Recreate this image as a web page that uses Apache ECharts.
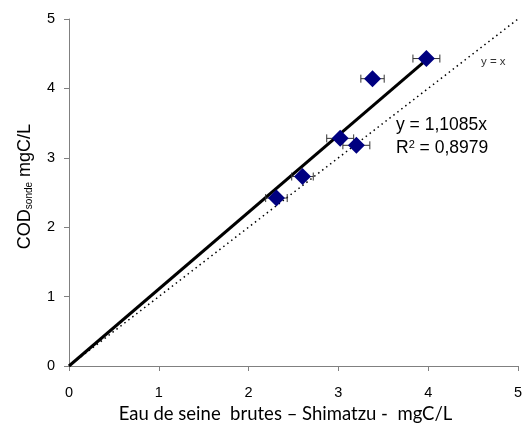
<!DOCTYPE html>
<html><head><meta charset="utf-8">
<script src="https://cdn.jsdelivr.net/npm/echarts@6/dist/echarts.min.js"></script>
<style>html,body{margin:0;padding:0;background:#fff}#c{width:523px;height:423px}</style>
</head><body><div id="c"></div>
<script>
const xValues = [2.31, 2.60, 3.02, 3.20, 3.38, 3.98];
const yValues = [2.42, 2.73, 3.28, 3.18, 4.14, 4.43];
const xErr = [0.12, 0.12, 0.15, 0.15, 0.13, 0.15];
const slope = 1.1085;
const trendX = [0, 3.98];
const identityX = [0, 5];
const tickValues = [0, 1, 2, 3, 4, 5];
const eqText = 'y = 1,1085x';
const r2Text = '0,8979';
const xName = 'Eau de seine  brutes – Shimatzu -  mgC/L';

const chart = echarts.init(document.getElementById('c'), null, {renderer: 'canvas'});
const pts = xValues.map((x, i) => [x, yValues[i]]);
const errData = xValues.map((x, i) => [x - xErr[i], x + xErr[i], yValues[i]]);
const font = 'Liberation Sans, Arial, sans-serif';
const nameFamily = 'Lato, Open Sans, sans-serif';
chart.setOption({
  animation: false,
  grid: {left: 69, right: 5, top: 19, bottom: 57, containLabel: false, outerBoundsMode: 'none'},
  xAxis: {
    type: 'value', min: 0, max: 5, interval: 1,
    axisLine: {show: true, lineStyle: {color: '#808080', width: 1}},
    axisTick: {show: true, inside: false, length: 5, lineStyle: {color: '#808080'}},
    splitLine: {show: false},
    axisLabel: {color: '#000', fontSize: 14.5, fontFamily: font, margin: 19},
    name: xName,
    nameLocation: 'middle', nameGap: 36,
    nameTextStyle: {color: '#000', fontSize: 18.5, fontFamily: nameFamily, padding: [0, 16, 0, 0]}
  },
  yAxis: {
    type: 'value', min: 0, max: 5, interval: 1,
    axisLine: {show: true, lineStyle: {color: '#808080', width: 1}},
    axisTick: {show: true, inside: false, length: 5, lineStyle: {color: '#808080'}},
    splitLine: {show: false},
    axisLabel: {color: '#000', fontSize: 14.5, fontFamily: font, margin: 14},
    name: '{a|COD}{b|sonde}{a| mgC/L}',
    nameLocation: 'middle', nameGap: 35,
    nameTextStyle: {
      padding: [0, 0, 0, 12],
      rich: {
        a: {fontSize: 18, fontFamily: font, color: '#000', lineHeight: 20, verticalAlign: 'bottom'},
        b: {fontSize: 10, fontFamily: font, color: '#000', lineHeight: 12, verticalAlign: 'bottom'}
      }
    }
  },
  series: [
    {
      type: 'line', data: identityX.map(x => [x, x]), symbol: 'none', silent: true,
      lineStyle: {color: '#000', width: 1.5, type: [1.5, 3.5]}, z: 1
    },
    {
      type: 'line', data: trendX.map(x => [x, slope * x]), symbol: 'none', silent: true,
      lineStyle: {color: '#000', width: 3}, z: 2
    },
    {
      type: 'custom', z: 3,
      renderItem: function (params, api) {
        const a = api.coord([api.value(0), api.value(2)]);
        const b = api.coord([api.value(1), api.value(2)]);
        const h = 4;
        const st = {stroke: '#333', lineWidth: 1};
        return {type: 'group', children: [
          {type: 'line', shape: {x1: a[0], y1: a[1], x2: b[0], y2: b[1]}, style: st},
          {type: 'line', shape: {x1: a[0], y1: a[1] - h, x2: a[0], y2: a[1] + h}, style: st},
          {type: 'line', shape: {x1: b[0], y1: b[1] - h, x2: b[0], y2: b[1] + h}, style: st}
        ]};
      },
      data: errData
    },
    {
      type: 'scatter', data: pts, symbol: 'diamond', symbolSize: [17, 17], z: 4,
      itemStyle: {color: '#000080', opacity: 1}
    }
  ],
  graphic: [
    {type: 'text', left: 481, top: 56, style: {text: 'y = x', font: '11.5px ' + font, fill: '#333'}},
    {type: 'text', left: 396, top: 116, style: {text: eqText, font: '17.5px ' + font, fill: '#000'}},
    {type: 'text', left: 396, top: 139, style: {
      text: '{a|R}{s|2}{a| = ' + r2Text + '}',
      rich: {
        a: {font: '17.5px ' + font, fill: '#000', lineHeight: 22, verticalAlign: 'bottom'},
        s: {font: '11px ' + font, fill: '#000', lineHeight: 22, verticalAlign: 'bottom', padding: [0, 0, 7, 0]}
      }
    }}
  ]
});
</script></body></html>
